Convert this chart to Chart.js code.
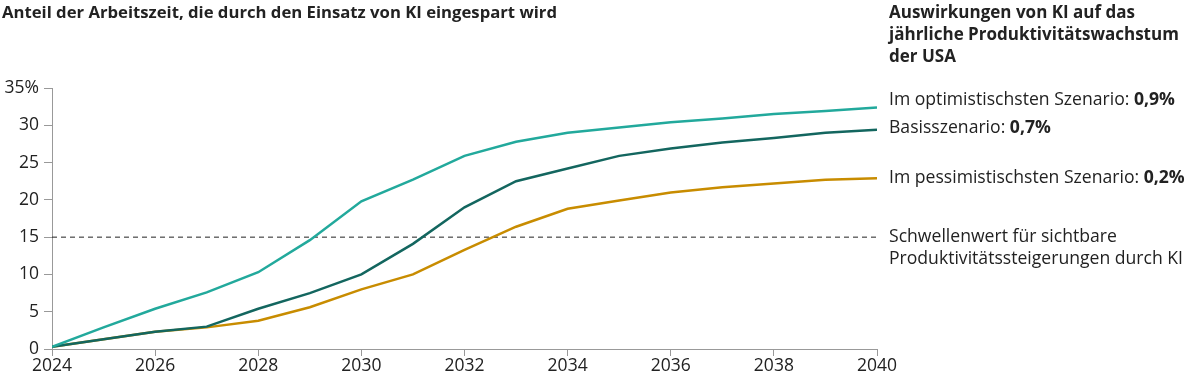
<!DOCTYPE html>
<html><head><meta charset="utf-8">
<script src="https://cdn.jsdelivr.net/npm/chart.js@4"></script>
<style>
html,body{margin:0;padding:0;background:#fff;}
#wrap{position:relative;width:1200px;height:382px;}
canvas{position:absolute;left:0;top:0;}
</style></head>
<body><div id="wrap"><canvas id="c" width="1200" height="382"></canvas></div>
<script>
const years = [2024,2025,2026,2027,2028,2029,2030,2031,2032,2033,2034,2035,2036,2037,2038,2039,2040];
const optimistic  = [0.3,2.9,5.4,7.6,10.3,14.6,19.8,22.7,25.9,27.8,29.0,29.7,30.4,30.9,31.5,31.9,32.4];
const base        = [0.3,1.3,2.3,3.0,5.4,7.5,10.0,14.1,19.0,22.5,24.2,25.9,26.9,27.7,28.3,29.0,29.4];
const pessimistic = [0.3,1.3,2.3,2.9,3.8,5.6,8.0,10.0,13.3,16.4,18.8,19.9,21.0,21.7,22.2,22.7,22.9];
const threshold = 15;
const seriesNames = ["Im optimistischsten Szenario: ","Basisszenario: ","Im pessimistischsten Szenario: "];
const seriesGrowth = ["0,9%","0,7%","0,2%"];
const thresholdLabel = ["Schwellenwert für sichtbare","Produktivitätssteigerungen durch KI"];
const leftTitle = "Anteil der Arbeitszeit, die durch den Einsatz von KI eingespart wird";
const rightTitle = ["Auswirkungen von KI auf das","jährliche Produktivitätswachstum","der USA"];
const yTicks = [0,5,10,15,20,25,30,35];

const FONT = "'Open Sans', sans-serif";
const TXT = "#222";
const pts = arr => arr.map((v,i)=>({x:years[i],y:v}));

const labelsPlugin = {
  id:'labels',
  afterDraw(chart){
    const ctx = chart.ctx, ys = chart.scales.y;
    ctx.save();
    ctx.fillStyle = TXT;
    ctx.textBaseline = 'middle';
    ctx.textAlign = 'left';
    ctx.font = "bold 16.7px " + FONT;
    ctx.fillText(leftTitle, 2, 13);
    ctx.font = "bold 17px " + FONT;
    rightTitle.forEach((t,i)=>ctx.fillText(t, 889, 13 + i*22));
    const lx = 889;
    const ends = [optimistic[optimistic.length-1], base[base.length-1], pessimistic[pessimistic.length-1]];
    const offs = [-7,-2,0];
    ends.forEach((v,i)=>{
      const y = ys.getPixelForValue(v) + offs[i];
      ctx.font = "17.6px " + FONT;
      ctx.fillText(seriesNames[i], lx, y);
      const w = ctx.measureText(seriesNames[i]).width;
      ctx.font = "bold 17.6px " + FONT;
      ctx.fillText(seriesGrowth[i], lx + w, y);
    });
    ctx.font = "17.6px " + FONT;
    const ty = ys.getPixelForValue(threshold);
    ctx.fillText(thresholdLabel[0], lx, ty);
    ctx.fillText(thresholdLabel[1], lx, ty + 22);
    ctx.restore();
  }
};

new Chart(document.getElementById('c'), {
  type:'line',
  data:{datasets:[
    {data:pts(optimistic), borderColor:'#22a99c', borderWidth:2.5, pointRadius:0, tension:0},
    {data:pts(base), borderColor:'#13665f', borderWidth:2.5, pointRadius:0, tension:0},
    {data:pts(pessimistic), borderColor:'#c88c00', borderWidth:2.5, pointRadius:0, tension:0},
    {data:[{x:years[0],y:threshold},{x:years[years.length-1],y:threshold}], borderColor:'#222', borderWidth:1, borderDash:[5,4], pointRadius:0}
  ]},
  options:{
    responsive:false, animation:false, events:[],
    layout:{padding:{left:0,right:323,top:88,bottom:0}},
    plugins:{legend:{display:false},tooltip:{enabled:false}},
    scales:{
      x:{type:'linear', min:2024, max:2040,
        afterFit(s){s.height=33;},
        border:{color:'#999',width:1},
        grid:{drawOnChartArea:false, color:'#999', tickLength:7},
        ticks:{stepSize:2, color:TXT, font:{family:FONT,size:17.5}, padding:0, maxRotation:0,
          callback:v=>String(v)}
      },
      y:{min:0,max:35,
        afterFit(s){s.width=52;},
        afterBuildTicks(s){s.ticks = yTicks.map(v=>({value:v}));},
        border:{color:'#999',width:1},
        grid:{drawOnChartArea:false, color:'#999', tickLength:8},
        ticks:{color:TXT, font:{family:FONT,size:17.5}, padding:5,
          callback:v=> v===35 ? v+'%' : String(v)}
      }
    }
  },
  plugins:[labelsPlugin]
});
</script></body></html>
